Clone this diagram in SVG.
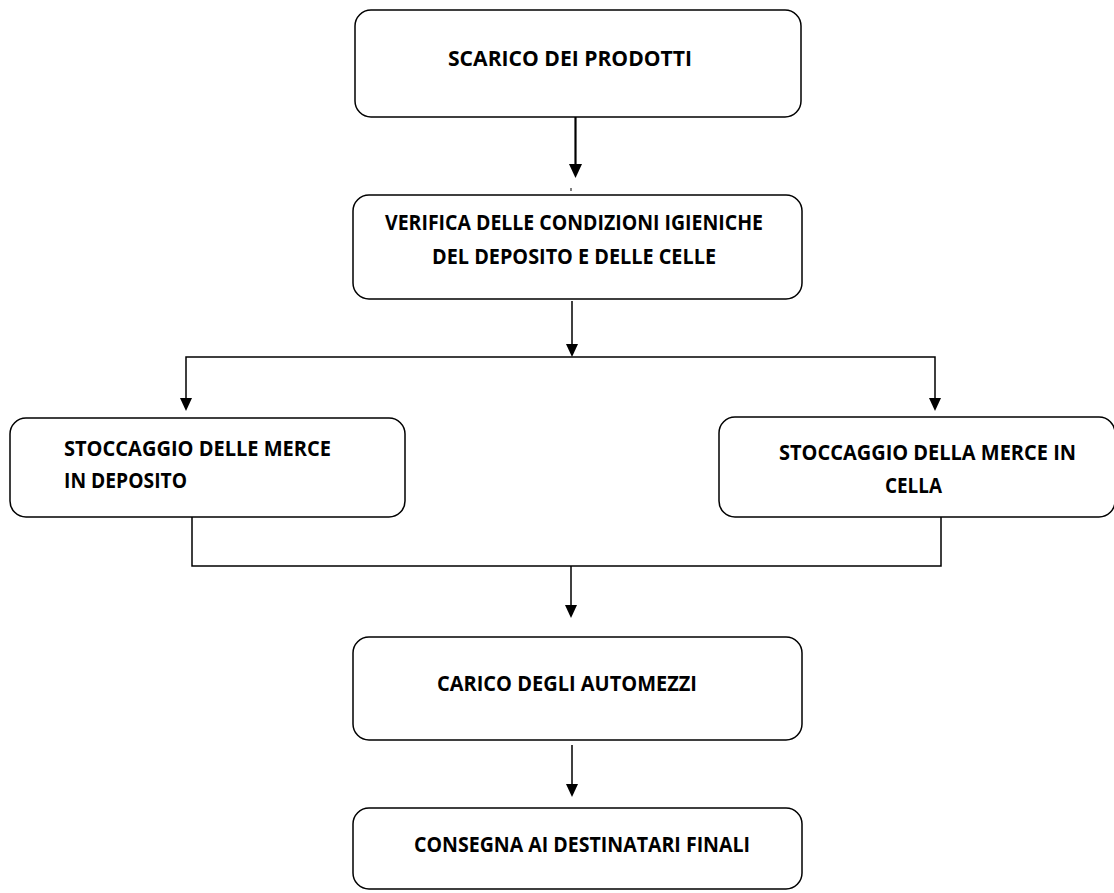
<svg xmlns="http://www.w3.org/2000/svg" width="1114" height="893" viewBox="0 0 1114 893">
<style>
.box{fill:#ffffff;stroke:#000000;stroke-width:1.5}
.lbl{font-family:"Open Sans","Liberation Sans",sans-serif;font-weight:bold;font-size:21.5px;fill:#000000}
.ln{fill:none;stroke:#000000;stroke-width:1.5}
.head{fill:#000000;stroke:none}
</style>
<rect x="0" y="0" width="1114" height="893" fill="#ffffff"/>
<g id="connectors">
<line class="ln" x1="575.5" y1="117" x2="575.5" y2="166" style="stroke-width:2.2"/>
<polygon class="head" points="569,164 582,164 575.5,178"/>
<line class="ln" x1="571" y1="188" x2="571" y2="191" style="stroke-width:1"/>
<line class="ln" x1="572" y1="301" x2="572" y2="346"/>
<polygon class="head" points="566,344 578,344 572,357"/>
<polyline class="ln" points="186,400 186,357 935,357 935,400"/>
<polygon class="head" points="180,398 192,398 186,411"/>
<polygon class="head" points="929,398 941,398 935,411"/>
<polyline class="ln" points="192,517 192,566 941,566 941,517"/>
<line class="ln" x1="571" y1="566" x2="571" y2="607"/>
<polygon class="head" points="565,605 577,605 571,618"/>
<line class="ln" x1="572" y1="745" x2="572" y2="786"/>
<polygon class="head" points="566,784 578,784 572,797"/>
</g>
<g id="n1">
<rect class="box" x="355" y="10" width="446" height="107" rx="16"/>
<text class="lbl" x="448" y="66" textLength="244" lengthAdjust="spacingAndGlyphs">SCARICO DEI PRODOTTI</text>
</g>
<g id="n2">
<rect class="box" x="353" y="195" width="449" height="104" rx="16"/>
<text class="lbl" x="385" y="230" textLength="378" lengthAdjust="spacingAndGlyphs">VERIFICA DELLE CONDIZIONI IGIENICHE</text>
<text class="lbl" x="432" y="264" textLength="284" lengthAdjust="spacingAndGlyphs">DEL DEPOSITO E DELLE CELLE</text>
</g>
<g id="n3">
<rect class="box" x="10" y="418" width="395" height="99" rx="16"/>
<text class="lbl" x="64" y="456" textLength="267" lengthAdjust="spacingAndGlyphs">STOCCAGGIO DELLE MERCE</text>
<text class="lbl" x="64" y="488" textLength="123" lengthAdjust="spacingAndGlyphs">IN DEPOSITO</text>
</g>
<g id="n4">
<rect class="box" x="719" y="417" width="396" height="100" rx="16"/>
<text class="lbl" x="779" y="460" textLength="297" lengthAdjust="spacingAndGlyphs">STOCCAGGIO DELLA MERCE IN</text>
<text class="lbl" x="885" y="493" textLength="57" lengthAdjust="spacingAndGlyphs">CELLA</text>
</g>
<g id="n5">
<rect class="box" x="353" y="637" width="449" height="103" rx="16"/>
<text class="lbl" x="437" y="691" textLength="260" lengthAdjust="spacingAndGlyphs">CARICO DEGLI AUTOMEZZI</text>
</g>
<g id="n6">
<rect class="box" x="353" y="808" width="449" height="81" rx="16"/>
<text class="lbl" x="414" y="852" textLength="336" lengthAdjust="spacingAndGlyphs">CONSEGNA AI DESTINATARI FINALI</text>
</g>
</svg>
